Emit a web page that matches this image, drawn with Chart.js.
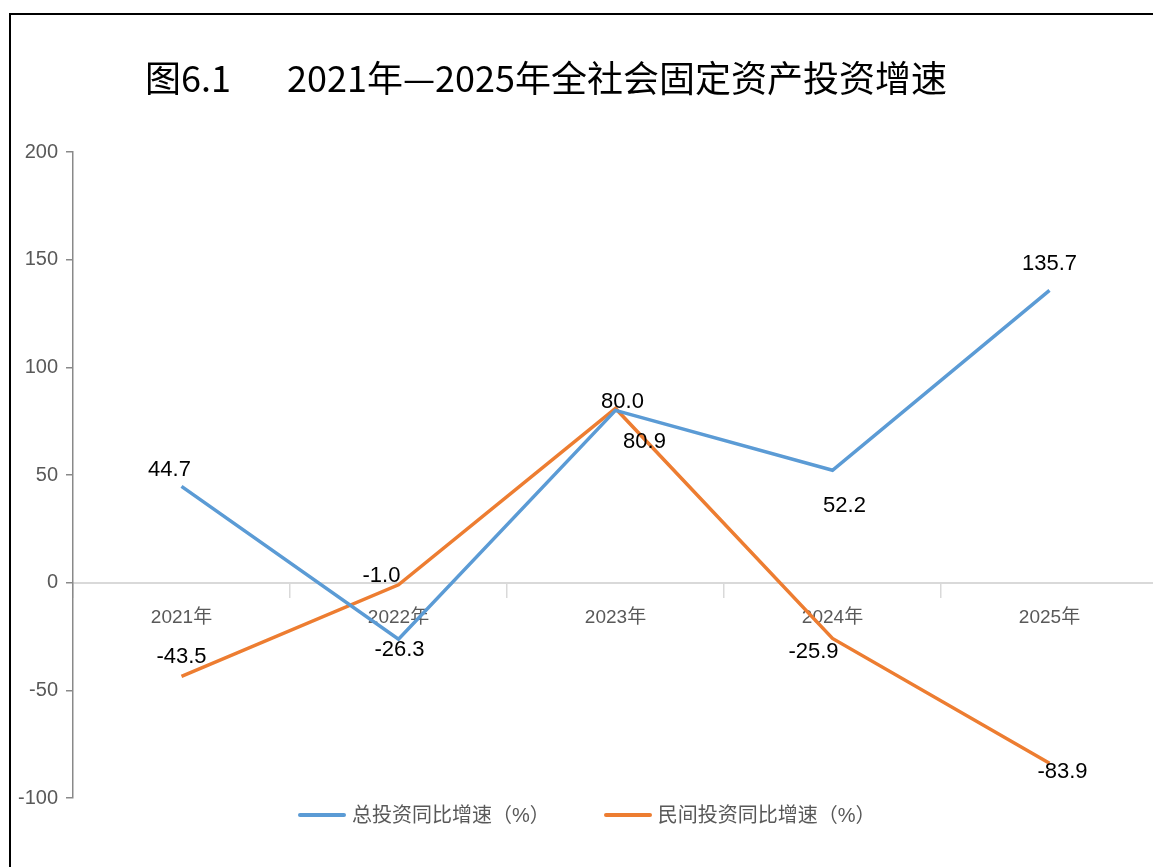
<!DOCTYPE html>
<html>
<head>
<meta charset="utf-8">
<script src="https://cdn.jsdelivr.net/npm/chart.js@4.4.1/dist/chart.umd.min.js"></script>
<style>
  html, body { margin: 0; padding: 0; background: #fff; }
  #page { position: relative; width: 1153px; height: 867px; overflow: hidden; background: #fff; }
  #frame { position: absolute; left: 9px; top: 13px; width: 1200px; height: 900px;
           border-top: 2px solid #000; border-left: 2px solid #000; }
  #chart { position: absolute; left: 0; top: 0; }
  #title { position: absolute; left: 145px; top: 58px; font: 36px/36px "Noto Sans CJK SC", sans-serif;
           color: #000; white-space: nowrap; }
  #title .gap { margin-left: 56px; }
  #legend { position: absolute; left: 298px; top: 803px; display: flex; align-items: center;
            font: 20px/24px "Liberation Sans", "Noto Sans CJK SC", sans-serif; color: #595959; }
  #legend .item { display: flex; align-items: center; margin-right: 54px; }
  #legend .swatch { width: 48px; height: 4px; margin-right: 6px; border-radius: 2px; }
</style>
</head>
<body>
<div id="page">
  <div id="frame"></div>
  <canvas id="chart" width="1158" height="867"></canvas>
  <div id="title">图6.1<span class="gap">2021年—2025年全社会固定资产投资增速</span></div>
  <div id="legend"></div>
</div>
<script>
  const years = ['2021年', '2022年', '2023年', '2024年', '2025年'];
  const totalGrowth = [44.7, -26.3, 80.0, 52.2, 135.7];
  const privateGrowth = [-43.5, -1.0, 80.9, -25.9, -83.9];
  const seriesNames = ['总投资同比增速（%）', '民间投资同比增速（%）'];
  const yTicks = [-100, -50, 0, 50, 100, 150, 200];

  // where each value label sits relative to its point (px)
  const totalLabelOffsets = [[-12, -16], [1, 11], [7, -8], [12, 36], [0, -27]];
  const privateLabelOffsets = [[0, -19], [-17, -9], [29, 33], [-19, 13], [13, 9]];

  const BLUE = '#5B9BD5';
  const ORANGE = '#ED7D31';
  const FONT = '"Liberation Sans", "Noto Sans CJK SC", sans-serif';

  const valueLabels = {
    id: 'valueLabels',
    afterDatasetsDraw(chart) {
      const ctx = chart.ctx;
      ctx.save();
      ctx.font = '22px ' + FONT;
      ctx.fillStyle = '#000';
      ctx.textAlign = 'center';
      ctx.textBaseline = 'middle';
      chart.data.datasets.forEach((ds, i) => {
        const meta = chart.getDatasetMeta(i);
        meta.data.forEach((pt, j) => {
          const [dx, dy] = ds.labelOffsets[j];
          ctx.fillText(ds.data[j].toFixed(1), pt.x + dx, pt.y + dy);
        });
      });
      ctx.restore();
    }
  };

  const chart = new Chart(document.getElementById('chart'), {
    type: 'line',
    data: {
      labels: years,
      datasets: [
        { label: seriesNames[0], data: totalGrowth, borderColor: BLUE, backgroundColor: BLUE,
          borderWidth: 3.5, pointRadius: 0, tension: 0, labelOffsets: totalLabelOffsets },
        { label: seriesNames[1], data: privateGrowth, borderColor: ORANGE, backgroundColor: ORANGE,
          borderWidth: 3.5, pointRadius: 0, tension: 0, labelOffsets: privateLabelOffsets }
      ]
    },
    options: {
      responsive: false,
      animation: false,
      devicePixelRatio: 1,
      layout: { padding: { top: 152, bottom: 69, left: 0, right: 0 } },
      plugins: {
        legend: { display: false },
        title: { display: false },
        tooltip: { enabled: false }
      },
      scales: {
        x: {
          type: 'category',
          offset: true,
          position: { y: 0 },
          grid: { offset: true, drawOnChartArea: false, tickLength: 14, color: '#d9d9d9', lineWidth: 1.5 },
          border: { color: '#d9d9d9', width: 2 },
          ticks: { color: '#595959', font: { size: 19, family: FONT }, padding: 10, maxRotation: 0, autoSkip: false }
        },
        y: {
          min: -100,
          max: 200,
          afterBuildTicks(scale) { scale.ticks = yTicks.map(v => ({ value: v })); },
          afterFit(scale) { scale.width = 73; },
          grid: { drawOnChartArea: false, tickLength: 7, color: '#898989', lineWidth: 1.5 },
          border: { color: '#898989', width: 1.5 },
          ticks: { color: '#595959', font: { size: 20, family: FONT }, padding: 8 }
        }
      }
    },
    plugins: [valueLabels]
  });

  const legend = document.getElementById('legend');
  chart.data.datasets.forEach(ds => {
    const item = document.createElement('div');
    item.className = 'item';
    const sw = document.createElement('span');
    sw.className = 'swatch';
    sw.style.background = ds.borderColor;
    const txt = document.createElement('span');
    txt.textContent = ds.label;
    item.appendChild(sw);
    item.appendChild(txt);
    legend.appendChild(item);
  });
</script>
</body>
</html>
